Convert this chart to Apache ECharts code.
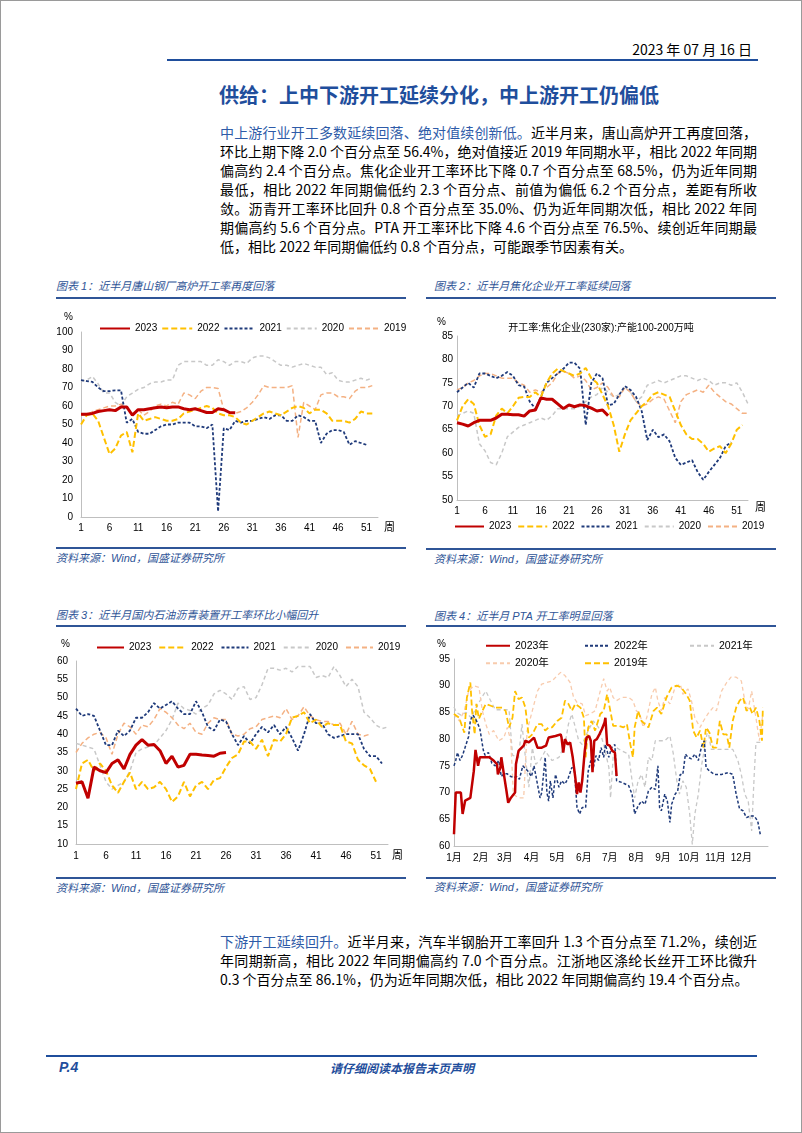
<!DOCTYPE html>
<html><head><meta charset="utf-8">
<script src="https://cdn.jsdelivr.net/npm/echarts@6/dist/echarts.min.js"></script>
<style>
html,body{margin:0;padding:0;background:#fff;}
#page{position:relative;width:802px;height:1133px;box-sizing:border-box;border:1px solid #9a9a9a;overflow:hidden;font-family:"Liberation Sans Narrow","Noto Sans CJK SC",sans-serif;color:#000;}
.a{position:absolute;}
.ln{position:absolute;left:219px;width:537px;height:19px;font-size:14px;line-height:19px;white-space:nowrap;text-align:justify;text-align-last:justify;}
.ln.last{text-align:left;text-align-last:left;}
.blue{color:#2E5BA8;}
.ct{position:absolute;font-size:11px;font-style:italic;color:#2F5597;white-space:nowrap;font-family:"Liberation Sans","Noto Sans CJK SC",sans-serif;}
.hl{position:absolute;height:1.5px;background:#2F5597;}
.chart{position:absolute;}
</style></head><body>
<div id="page">
  <div class="a" style="right:49px;top:38px;font-size:14px;white-space:nowrap;">2023 年 07 月 16 日</div>
  <div class="a" style="left:166px;top:58px;width:591px;height:2px;background:#1F4E9C;"></div>
  <div class="a" style="left:218px;top:79px;font-size:20px;font-weight:bold;color:#1F4E9C;white-space:nowrap;font-family:'Noto Sans CJK SC',sans-serif;">供给：上中下游开工延续分化，中上游开工仍偏低</div>

  <div class="ln" style="top:122px;"><span class="blue">中上游行业开工多数延续回落、绝对值续创新低。</span>近半月来，唐山高炉开工再度回落，</div>
  <div class="ln" style="top:141px;">环比上期下降 2.0 个百分点至 56.4%，绝对值接近 2019 年同期水平，相比 2022 年同期</div>
  <div class="ln" style="top:160px;">偏高约 2.4 个百分点。焦化企业开工率环比下降 0.7 个百分点至 68.5%，仍为近年同期</div>
  <div class="ln" style="top:179px;">最低，相比 2022 年同期偏低约 2.3 个百分点、前值为偏低 6.2 个百分点，差距有所收</div>
  <div class="ln" style="top:198px;">敛。沥青开工率环比回升 0.8 个百分点至 35.0%、仍为近年同期次低，相比 2022 年同</div>
  <div class="ln" style="top:217px;">期偏高约 5.6 个百分点。PTA 开工率环比下降 4.6 个百分点至 76.5%、续创近年同期最</div>
  <div class="ln last" style="top:236px;">低，相比 2022 年同期偏低约 0.8 个百分点，可能跟季节因素有关。</div>

  <div class="ct" style="left:55px;top:276px;">图表 1：近半月唐山钢厂高炉开工率再度回落</div>
  <div class="hl" style="left:55px;top:296px;width:350px;"></div>
  <div class="ct" style="left:433px;top:276px;">图表 2：近半月焦化企业开工率延续回落</div>
  <div class="hl" style="left:425px;top:296px;width:350px;"></div>
  <div class="hl" style="left:55px;top:546px;width:350px;"></div>
  <div class="ct" style="left:55px;top:548px;">资料来源：Wind，国盛证券研究所</div>
  <div class="hl" style="left:425px;top:547px;width:350px;"></div>
  <div class="ct" style="left:433px;top:549px;">资料来源：Wind，国盛证券研究所</div>

  <div class="ct" style="left:55px;top:605px;">图表 3：近半月国内石油沥青装置开工率环比小幅回升</div>
  <div class="hl" style="left:55px;top:624px;width:350px;"></div>
  <div class="ct" style="left:433px;top:606px;">图表 4：近半月 PTA 开工率明显回落</div>
  <div class="hl" style="left:425px;top:624px;width:350px;"></div>
  <div class="hl" style="left:55px;top:876px;width:350px;"></div>
  <div class="ct" style="left:55px;top:878px;">资料来源：Wind，国盛证券研究所</div>
  <div class="hl" style="left:425px;top:876px;width:350px;"></div>
  <div class="ct" style="left:433px;top:877px;">资料来源：Wind，国盛证券研究所</div>

  <div id="c1" class="chart" style="left:45px;top:300px;width:370px;height:245px;"></div>
  <div id="c2" class="chart" style="left:420px;top:300px;width:375px;height:245px;"></div>
  <div id="c3" class="chart" style="left:45px;top:630px;width:370px;height:245px;"></div>
  <div id="c4" class="chart" style="left:420px;top:630px;width:375px;height:245px;"></div>

  <div class="ln" style="top:931px;"><span class="blue">下游开工延续回升。</span>近半月来，汽车半钢胎开工率回升 1.3 个百分点至 71.2%，续创近</div>
  <div class="ln" style="top:950px;">年同期新高，相比 2022 年同期偏高约 7.0 个百分点。江浙地区涤纶长丝开工环比微升</div>
  <div class="ln last" style="top:969px;">0.3 个百分点至 86.1%，仍为近年同期次低，相比 2022 年同期偏高约 19.4 个百分点。</div>

  <div class="a" style="left:45px;top:1054px;width:711px;height:2px;background:#1F4E9C;"></div>
  <div class="a" style="left:58px;top:1058px;font-size:14px;font-weight:bold;font-style:italic;color:#1F4E9C;font-family:'Liberation Sans',sans-serif;">P.4</div>
  <div class="a" style="left:0;width:802px;top:1058px;text-align:center;font-size:12px;font-weight:bold;font-style:italic;color:#1F4E9C;font-family:'Noto Sans CJK SC',sans-serif;">请仔细阅读本报告末页声明</div>
</div>
<script>
// ---------- categories / tick labels ----------
const weekLabels = ['1','2','3','4','5','6','7','8','9','10','11','12','13','14','15','16','17','18','19','20','21','22','23','24','25','26','27','28','29','30','31','32','33','34','35','36','37','38','39','40','41','42','43','44','45','46','47','48','49','50','51','52','53'];
const monthLabels = ['1月','2月','3月','4月','5月','6月','7月','8月','9月','10月','11月','12月'];
const monthStartDays = [0,31,59,90,120,151,181,212,243,273,304,334];
const yearNames = ['2023','2022','2021','2020','2019'];
const ptaNames = ['2023年','2022年','2021年','2020年','2019年'];

// ---------- Chart 1: Tangshan blast furnace (%) ----------
const steel2023 = [55.5,55.5,56,57,57.5,58,57.5,59.5,59.5,55,58,58,58.5,59,59.5,59,59.5,59.5,58.5,58,58.5,57.5,56.5,56.5,58.5,58,56.5,56.4];
const steel2022 = [50,55,56,52,43,34,37,44,46,35,56,52,53,54,53,52,52,53,56,57,58,59,60,59,56,55,55,54,51,50,52,54,56,57,56,55,57,59,60,59,56,58,58,56,52,52,52,51,53,57,56,56];
const steel2021 = [74,73.5,73,70,68,68,68.5,68.5,51,53,46,45,45,47,49,50,50,51,51,51,49,49,48,50,3,48,47,52,51,52,52,53,54,53,55,55,52,52,55,54,52,52,40,45,47,47,46,39,41,40,39];
const steel2020 = [73.5,74,76,72,67,67,62,60,65,67,69,70,72,73,73,74,74,82,84,84,84,84,82,82,85,84,82,84,84,83,86,87,87,86,84,82,82,81,82,83,82,81,81,77,78,74,73,73,74,75,74,75];
const steel2019 = [55,55,57,58,59,60,60,61,59,56,58,55,57,60,61,60,62,61,67,66,64,68,70,70,69.5,58,56,56,57,59,62,66,71,70,70,70,70,71,43,62,60,58,66,67,67,65,65,64,68,70,70,71];

// ---------- Chart 2: coking enterprises (%) ----------
const coke2023 = [66.5,66.2,65.8,66.5,67,67,67,67.5,68.3,68.3,68.2,68.2,67.9,69,69.2,71.8,71.5,71.5,70.5,69.5,70.3,69.9,70.3,70.1,69.6,69,69.2,68];
const coke2022 = [67,70,71.5,70.5,66,63.5,64,68,69.5,68.5,70,71.8,72,72,73,72,75,77,78,77.5,77,76.5,77,78.2,76,75,72.5,70,66,60.3,64,67,68.5,70,71,72.5,73,72.5,72,69,66,64,63,63,62,60.3,61,61.5,60,62,65,66];
const coke2021 = [73,74,75,74,77,77,76.5,76,76.5,77.3,76.5,74.5,74.2,71,69.5,72,75,76,77,78,79.3,79.3,78,66,75,77,76,70.2,70.5,72.5,74.3,73.5,72,69,62.8,65,63.4,64,62.5,59,57.5,58,58.5,56,54.3,56,57.5,59,61.5,62.3];
const coke2020 = [68,68.5,69,68.5,62,60.5,58,57.5,60,63.5,64.5,65.5,66,66.5,67,67.5,67,68,69.5,69.5,69.5,69.5,70,71,72,72.5,74,73,72,72.5,74,73,71,72,74.5,75,75.5,75,75.5,76,76.5,76.5,76,75.5,76,75.5,74.5,75,75,74.5,75,73,70.5];
const coke2019 = [73.5,74,75,75.5,76.5,77,77,76.5,76,76,76,75,74.5,73,73.5,73,74,75,77,77.5,77,76,76.5,75.5,73.5,74,75,74,72,72,74,73,71,70,70.5,71.5,72,71.5,69,66.5,71,72.5,73,73.5,73,74.5,73,72,71,70.5,69.5,68.5,68.5];

// ---------- Chart 3: asphalt (%) ----------
const asph2023 = [26.6,27,22.5,31,30,29.5,32,33,30.5,34.5,37,38.5,37,37.2,35.5,32,34,31,31.5,34.5,34.5,34.3,34.2,34,34.8,35];
const asph2022 = [25,32,33,30,32,30,26,24,27,29.5,25,27,25,25.5,27,25,21.5,23,27,23,26,27,25,27.5,28,31,33.5,34.5,38,38,36,38.5,34,38.5,38,40,44.5,45,46,43,44,42,43,42.5,42.5,38,37.5,33,31.5,30.5,27];
const asph2021 = [47,45,45.5,45,41,37,37,41,39.5,41,44.5,44.5,46,48.5,47,48,49,47,45.5,45.5,49,46,42,41,44,43.5,40,37,39.5,37.5,40,42,40.5,42.5,40,42,39,35.5,40,45.5,43,43,40,39,39.5,40,40,40,36,34,34,32];
const asph2020 = [37.5,37,36.5,36,31.5,27,25,26,27,30,35,36,36.5,37,39,41,44,48.5,47,46.5,45.5,47,48,51,52,51,49.5,52.5,53,49.5,50,53.5,58,58,57.5,58,57,58.5,58.5,58.5,55.5,56,55.5,58.5,56,53,55,53,46,44.5,42.5,41.5,42];
const asph2019 = [35,37.5,39,40,40.5,39,34.5,40,43,42,40,42.5,42,44,47,46,44.5,42.5,41.5,43,40.5,40,43,44.5,44,44,40,39.5,40,41.5,42,44,44.5,45,44.5,47,44,45,47.5,45,44,43.5,43.5,42.5,43,40,43.5,40,39.5,40];

// ---------- Chart 4: PTA (%), [day of year, value] ----------
const pta2023 = [[0,62.2],[2,70],[8,70],[10,66],[13,68.5],[15,68.8],[19,69],[23,74],[25,78],[28,75],[30,76.6],[41,76.6],[46,76],[50,75.3],[51,73.4],[54,74.7],[55,76.6],[58,73.4],[61,70.3],[63,68.1],[66,69],[71,70],[72,75.3],[75,77.8],[81,78.8],[83,79.7],[87,79.4],[93,80.3],[97,78.4],[102,78.4],[107,78.8],[110,80.3],[118,80.6],[124,80.9],[125,80.3],[127,77.5],[129,80],[132,79],[135,79.4],[138,76.6],[141,72.8],[143,69.7],[145,71.9],[147,70],[149,72.2],[152,77.8],[154,80.3],[157,80.6],[159,79.7],[161,73.8],[163,79.7],[166,80],[169,80.9],[172,81.9],[175,83.1],[176,84],[178,79],[181,78.8],[184,77.8],[187,77.5],[189,73.1]];
const pta2022 = [[0,75],[2,76],[4,77.5],[7,76],[10,77],[14,79],[17,80.5],[19,83.5],[22,84.5],[26,83.5],[30,82],[34,78],[36,77],[40,77.5],[44,75.5],[48,75],[52,76],[55,73],[58,73.5],[62,73.5],[66,73],[70,72.8],[73,73],[76,72.5],[80,75],[86,74],[90,73],[93,75],[100,69],[102,70],[106,76.6],[108,70],[110,68.4],[112,72.2],[115,69],[118,73.4],[122,71],[125,72.2],[129,71.6],[133,72.8],[137,74.7],[140,74],[143,67.2],[146,66],[149,67.2],[153,67.2],[156,74],[159,76],[162,74.7],[165,76.9],[168,76],[171,78.4],[174,76.6],[176,79],[180,76.6],[183,78.4],[187,79],[189,72.2],[195,71.9],[203,71.3],[207,69.7],[210,66],[214,67.5],[218,68.4],[222,67.8],[226,70.3],[230,71],[234,70.6],[237,75],[239,67.2],[241,66.6],[245,69.7],[248,68.4],[251,64.4],[253,67.8],[257,69.7],[260,70.3],[263,73.4],[266,73.4],[269,77.2],[272,76.6],[276,76.3],[280,77.2],[284,76],[288,78.8],[291,79.7],[293,74.7],[297,74],[303,73.4],[311,73.4],[319,73.75],[324,73.4],[328,69.7],[332,66.9],[336,66.6],[340,65.3],[344,65.6],[349,65.6],[353,64.7],[356,62.2]];
const pta2021 = [[0,86],[3,85],[8,84.5],[14,85],[20,84],[26,86],[33,88],[37,89],[40,88],[48,85.5],[56,85.5],[64,85.5],[68,77],[75,76.5],[79,82.8],[83,76.6],[87,71],[91,78.4],[95,75.3],[100,76],[106,77.8],[114,76],[122,76.6],[129,79],[133,82.8],[137,84.7],[141,82.2],[145,79.7],[149,79],[154,80.9],[158,82.2],[162,83.4],[168,82.2],[174,79],[180,74.7],[182,69],[185,76.6],[189,78.4],[195,77.8],[203,77.2],[207,72.2],[210,69],[214,72.2],[218,73.4],[222,71],[226,76.6],[230,76],[234,79.7],[239,79.7],[245,79.7],[251,80.6],[255,77.2],[259,72.2],[262,69.7],[266,72.2],[270,71],[274,66],[277,60.3],[280,66],[284,69.7],[288,75.3],[292,79],[295,81.9],[299,78.1],[305,78.1],[315,78.1],[324,78.1],[330,76],[334,73.4],[338,69.7],[342,68.4],[346,62.8],[349,73.4],[351,79.4],[357,79.4]];
const pta2020 = [[0,84.7],[6,83.4],[12,85.3],[17,89],[23,90],[29,89.7],[33,85.3],[37,82.8],[41,80.9],[46,81.6],[52,79.7],[58,80.3],[62,82.2],[66,79.7],[69,69.7],[75,69],[81,69],[85,81.6],[91,85.3],[97,89],[102,90.3],[108,90.6],[114,90.9],[120,91.9],[124,92.5],[129,91.9],[135,90.6],[139,87.8],[143,86.9],[149,86.6],[153,84.4],[158,84.7],[164,85.3],[170,89],[174,91.3],[178,89],[181,89.7],[185,87.8],[189,87.2],[195,87.8],[203,87.8],[208,87.2],[212,85.3],[216,84.7],[220,82.2],[224,84],[230,88.4],[234,89.7],[237,87.2],[241,85.3],[245,87.8],[251,86.6],[257,89.7],[263,90.3],[266,88.4],[272,89.4],[276,87.2],[280,84],[286,82.2],[290,83.4],[295,84.7],[301,85.9],[305,85.3],[311,89],[317,90.6],[322,91.6],[328,91.6],[334,90.9],[338,87.2],[342,85.6],[346,89],[351,84],[355,79.7],[359,84.7]];
const pta2019 = [[0,84.7],[6,84],[12,81.2],[15,87.8],[19,90.6],[21,85.3],[24,80.9],[26,86.6],[29,83.8],[33,85.3],[37,86.6],[42,86.3],[48,85.9],[56,85.9],[60,85.3],[64,82.2],[68,84],[71,89],[75,87.5],[79,87.8],[83,85.9],[87,80.3],[91,80.9],[97,82.8],[102,82.8],[106,81.6],[110,82.2],[114,82.2],[120,83.4],[125,84],[129,87.2],[133,86.6],[137,85.3],[141,86.6],[147,85.9],[151,84],[153,76.6],[156,82.2],[160,83.4],[164,81.6],[170,84.7],[174,85.3],[178,88.4],[181,85.9],[185,82.5],[191,82.5],[197,82.2],[201,82.8],[205,79],[208,76.6],[210,82.2],[214,85.3],[218,83.4],[222,82.8],[226,82.2],[232,85.3],[236,85.9],[241,84.7],[247,87.8],[253,89.7],[259,90],[264,89.7],[270,88.4],[274,87.2],[278,81.6],[282,80.3],[286,81.6],[290,78.4],[293,82.2],[297,81.2],[301,78.4],[305,78.4],[309,83.4],[313,80.9],[317,80.9],[320,78.4],[324,83.4],[328,85.9],[332,87.2],[336,87.8],[340,85.3],[344,85.9],[347,84.7],[351,85.9],[355,83.4],[358,79.7],[359,85.9]];

// ---------- styles ----------
const FONT = '"Liberation Sans","Noto Sans CJK SC",sans-serif';
const C = {red:'#C00000', yellow:'#FFC000', navy:'#1F3A7A', gray:'#C8C8C8', salmon:'#F4B183'};
function ls(color, width, type){ return {color:color, width:width, type:type}; }

function lineSeries(name, data, style, z){
  return {name:name, type:'line', data:data, symbol:'none', smooth:false, lineStyle:style, itemStyle:{color:style.color}, z:z||2, animation:false};
}
function baseAxes(yMin,yMax,yInt, gridPos, xLabelMargin, yLabelMargin){
  return {
    animation:false,
    grid: gridPos,
    xAxis:{type:'category', data:weekLabels, boundaryGap:false,
      axisLine:{lineStyle:{color:'#BFBFBF'}}, axisTick:{show:false},
      axisLabel:{interval:4, color:'#000', fontSize:10, fontFamily:FONT, margin:xLabelMargin},
      splitLine:{show:false}},
    yAxis:{type:'value', min:yMin, max:yMax, interval:yInt,
      axisLine:{show:true, lineStyle:{color:'#BFBFBF'}}, axisTick:{show:false},
      axisLabel:{color:'#000', fontSize:10, fontFamily:FONT, margin:yLabelMargin},
      splitLine:{show:false}}
  };
}
function txt(x,y,text,size,align){
  return {type:'text', x:x, y:y, style:{text:text, fill:'#000', font:(size||10)+'px '+FONT, textAlign:align||'left', textVerticalAlign:'middle'}};
}
const legendText = {color:'#000', fontSize:10, fontFamily:FONT};
const legendTextPta = {color:'#000', fontSize:10.5, fontFamily:FONT};
function legendH(left, top, iw, gap, names){
  return {left:left, top:top, padding:0, orient:'horizontal', itemWidth:iw, itemHeight:10, itemGap:gap, width:400,
    itemStyle:{opacity:0}, textStyle:legendText, data:names};
}
function legendV(left, top, names){
  return {left:left, top:top, padding:0, orient:'vertical', itemWidth:24, itemHeight:10, itemGap:7,
    itemStyle:{opacity:0}, textStyle:legendTextPta, data:names};
}
function yearSeries(d){
  return [
    lineSeries('2023', d[0], ls(C.red,3,'solid'), 10),
    lineSeries('2022', d[1], ls(C.yellow,2,[6,3]), 5),
    lineSeries('2021', d[2], ls(C.navy,1.8,[3,2]), 4),
    lineSeries('2020', d[3], ls(C.gray,1.5,[4,3]), 2),
    lineSeries('2019', d[4], ls(C.salmon,1.5,[5,3]), 3)
  ];
}

// Chart 1
(function(){
  const ch = echarts.init(document.getElementById('c1'));
  const o = baseAxes(0,100,10,{left:35, top:31, width:297, height:185}, 6, 8);
  o.legend = legendH(53, 22.5, 30, 4, yearNames);
  o.series = yearSeries([steel2023, steel2022, steel2021, steel2020, steel2019]);
  o.graphic = [txt(27,16,'%',10,'right'), txt(338,227,'周',11,'left')];
  ch.setOption(o);
})();

// Chart 2
(function(){
  const ch = echarts.init(document.getElementById('c2'));
  const o = baseAxes(50,85,5,{left:36, top:35, width:291, height:164}, 6, 4);
  o.legend = legendH(33, 220.5, 29, 6, yearNames);
  o.series = yearSeries([coke2023, coke2022, coke2021, coke2020, coke2019]);
  o.graphic = [txt(25,21,'%',10,'right'), txt(180,27,'开工率:焦化企业(230家):产能100-200万吨',10,'center'), txt(334,207,'周',11,'left')];
  ch.setOption(o);
})();

// Chart 3
(function(){
  const ch = echarts.init(document.getElementById('c3'));
  const o = baseAxes(10,60,5,{left:30, top:30, width:312, height:183}, 7, 8);
  o.legend = legendH(50, 11.5, 27, 7, yearNames);
  o.series = yearSeries([asph2023, asph2022, asph2021, asph2020, asph2019]);
  o.graphic = [txt(24,13,'%',10,'right'), txt(346,225,'周',11,'left')];
  ch.setOption(o);
})();

// Chart 4
(function(){
  const ch = echarts.init(document.getElementById('c4'));
  const o = {
    animation:false,
    grid:{left:33, top:28, width:314, height:187},
    xAxis:{type:'value', min:0, max:365,
      axisLine:{lineStyle:{color:'#BFBFBF'}}, axisTick:{show:false}, splitLine:{show:false},
      axisLabel:{customValues:monthStartDays, color:'#000', fontSize:10, fontFamily:FONT, margin:7,
        formatter:function(v){ const i = monthStartDays.indexOf(v); return i>=0 ? monthLabels[i] : ''; }}},
    yAxis:{type:'value', min:60, max:95, interval:5,
      axisLine:{show:true, lineStyle:{color:'#BFBFBF'}}, axisTick:{show:false}, splitLine:{show:false},
      axisLabel:{color:'#000', fontSize:10, fontFamily:FONT, margin:4}},
    legend:[
      legendV(64, 9.5, [ptaNames[0], ptaNames[3]]),
      legendV(163, 9.5, [ptaNames[1], ptaNames[4]]),
      legendV(268, 9.5, [ptaNames[2]])
    ],
    series:[
      lineSeries(ptaNames[0], pta2023, ls(C.red,2.5,'solid'), 10),
      lineSeries(ptaNames[1], pta2022, ls(C.navy,1.5,[3,2]), 5),
      lineSeries(ptaNames[2], pta2021, ls(C.gray,1.3,[4,3]), 2),
      lineSeries(ptaNames[3], pta2020, ls('#F8CBAD',1.3,[4,3]), 3),
      lineSeries(ptaNames[4], pta2019, ls(C.yellow,1.8,[6,3]), 4)
    ],
    graphic:[txt(25,13,'%',10,'right')]
  };
  ch.setOption(o);
})();
</script>
</body></html>
